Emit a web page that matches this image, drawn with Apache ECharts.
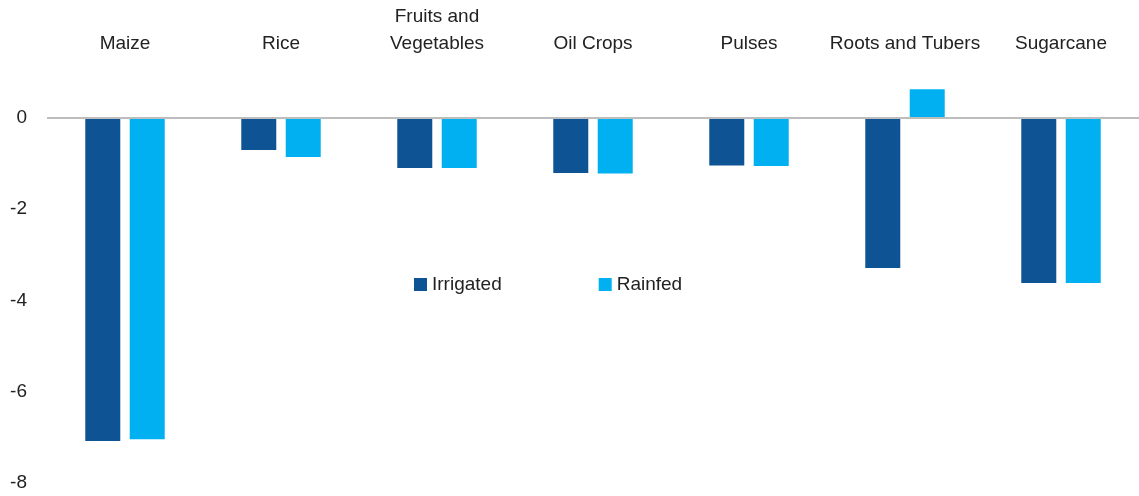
<!DOCTYPE html>
<html>
<head>
<meta charset="utf-8">
<script src="https://cdn.jsdelivr.net/npm/echarts@6/dist/echarts.min.js"></script>
<style>
html,body{margin:0;padding:0;background:#fff;}
#main{width:1139px;height:496px;}
</style>
</head>
<body>
<div id="main"></div>
<script>
const categories = ['Maize', 'Rice', 'Fruits and\nVegetables', 'Oil Crops', 'Pulses', 'Roots and Tubers', 'Sugarcane'];
const irrigated = [-7.08, -0.71, -1.10, -1.21, -1.05, -3.29, -3.62];
const rainfed = [-7.04, -0.86, -1.10, -1.22, -1.06, 0.62, -3.62];
const yTicks = [-8, -6, -4, -2, 0];

const chart = echarts.init(document.getElementById('main'), null, {renderer: 'canvas'});
const font = 'Liberation Sans, Arial, sans-serif';
chart.setOption({
  animation: false,
  backgroundColor: '#ffffff',
  textStyle: {fontFamily: font},
  legend: {
    left: 409,
    top: 270,
    itemWidth: 13,
    itemHeight: 13,
    itemGap: 97,
    icon: 'rect',
    textStyle: {fontSize: 19, color: '#222', fontFamily: font},
    data: ['Irrigated', 'Rainfed']
  },
  grid: {left: 47, top: 72, width: 1096, bottom: 13, containLabel: false},
  xAxis: {
    type: 'category',
    data: categories,
    position: 'top',
    axisLine: {show: false, onZero: false},
    axisTick: {show: false},
    axisLabel: {fontSize: 19, color: '#222', fontFamily: font, margin: 15, lineHeight: 27, interval: 0}
  },
  yAxis: {
    type: 'value',
    min: -8,
    max: 1,
    interval: 2,
    axisLine: {show: false},
    axisTick: {show: false},
    splitLine: {show: false},
    axisLabel: {
      fontSize: 19, color: '#222', fontFamily: font, margin: 20,
      showMaxLabel: false,
      formatter: v => (yTicks.indexOf(v) >= 0 ? String(v) : '')
    }
  },
  series: [
    {
      name: 'Irrigated',
      type: 'bar',
      data: irrigated,
      barWidth: 35,
      barGap: '27%',
      itemStyle: {color: '#0E5394'},
      markLine: {
        silent: true,
        symbol: 'none',
        label: {show: false},
        lineStyle: {color: '#BDBDBD', width: 2, type: 'solid'},
        data: [{yAxis: 0}]
      },
      z: 3
    },
    {
      name: 'Rainfed',
      type: 'bar',
      data: rainfed,
      barWidth: 35,
      barGap: '27%',
      itemStyle: {color: '#00B0F0'},
      z: 3
    }
  ]
});
</script>
</body>
</html>
